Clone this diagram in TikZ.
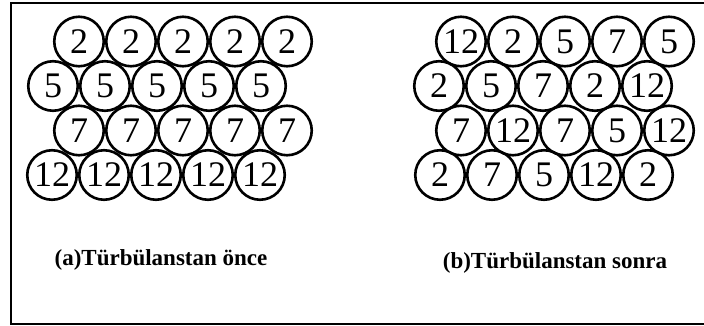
\documentclass[tikz,border=0pt]{standalone}
\usepackage{fontspec}
\setmainfont{Liberation Serif}
\usetikzlibrary{positioning}
\tikzset{
    grains/.style={x=1pt, y=1pt},
    grain/.style={draw, circle, line width=2.6pt, minimum size=49.5pt, inner sep=0pt,
        font=\fontsize{36}{36}\selectfont},
    caption/.style={font=\fontsize{23}{23}\selectfont\bfseries},
    frameline/.style={line width=2pt},
}

\begin{document}
\begin{tikzpicture}[grains]
    \useasboundingbox (0,0) rectangle (704,325);
    % frame (right side runs off the picture)
    \draw[frameline] (704,322) -- (11,322) -- (11,1) -- (704,1);

    % (a) before: rows are sorted
    \foreach \row/\xs/\vals in {1/79/{2,2,2,2,2}, 2/53/{5,5,5,5,5},
                                3/79/{7,7,7,7,7}, 4/52/{12,12,12,12,12}}
        \foreach \v [count=\i] in \vals
            \node[grain] (a\row\i) at ({\xs+52*(\i-1)}, {325-41.5-44.5*(\row-1)}) {\v};

    % (b) after: rows are mixed
    \foreach \row/\xs/\vals in {1/461/{12,2,5,7,5}, 2/439/{2,5,7,2,12},
                                3/461/{7,12,7,5,12}, 4/440/{2,7,5,12,2}}
        \foreach \v [count=\i] in \vals
            \node[grain] (b\row\i) at ({\xs+52*(\i-1)}, {325-41.5-44.5*(\row-1)}) {\v};

    \node[caption] (capa) at (161,65) {(a)Türbülanstan önce};
    \node[caption] (capb) at (555,62) {(b)Türbülanstan sonra};
\end{tikzpicture}
\end{document}
